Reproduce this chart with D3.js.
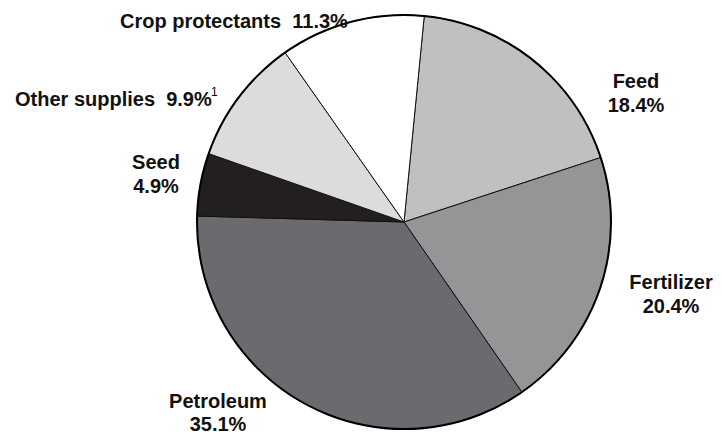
<!DOCTYPE html>
<html><head><meta charset="utf-8">
<script src="https://cdn.jsdelivr.net/npm/d3@7"></script>
<style>body{margin:0;background:#fff}svg{display:block}text{font-family:"Liberation Sans",Arial,sans-serif;font-weight:bold;fill:#111;white-space:pre}</style>
</head><body>
<script>
const categories = ["Feed","Fertilizer","Petroleum","Seed","Other supplies","Crop protectants"];
const values = [18.4, 20.4, 35.1, 4.9, 9.9, 11.3];
const colors = ["#c0c0c2","#959597","#6b6b6f","#231f20","#dcdcde","#ffffff"];
const labelText = [["Feed","18.4%"],["Fertilizer","20.4%"],["Petroleum","35.1%"],["Seed","4.9%"],["Other supplies  9.9%"],["Crop protectants  11.3%"]];

const W=722,H=434,cx=404,cy=222,R=207;
const svg=d3.select("body").append("svg").attr("width",W).attr("height",H);
const start=0.098;
const pie=d3.pie().sort(null).value(d=>d).startAngle(start).endAngle(start+2*Math.PI);
const arcs=pie(values);
const arc=d3.arc().innerRadius(0).outerRadius(R);
const g=svg.append("g").attr("transform",`translate(${cx},${cy})`);
g.selectAll("path").data(arcs).join("path").attr("d",arc)
 .attr("fill",(d,i)=>colors[i]).attr("stroke","#111").attr("stroke-width",1);
g.append("circle").attr("r",R).attr("fill","none").attr("stroke","#000").attr("stroke-width",2);

const lpos=[{x:636,y:88,a:"middle"},{x:671,y:289,a:"middle"},{x:218,y:408,a:"middle"},{x:156,y:169,a:"middle"},{x:15,y:106,a:"start"},{x:120,y:28,a:"start"}];
const lineGap=[24,24,23,24,24,24];
labelText.forEach((lines,i)=>{
  const t=svg.append("text").attr("x",lpos[i].x).attr("y",lpos[i].y).attr("text-anchor",lpos[i].a).attr("font-size",20);
  lines.forEach((s,j)=>t.append("tspan").attr("x",lpos[i].x).attr("dy",j?lineGap[i]:0).text(s));
});
svg.append("text").attr("x",211).attr("y",96).attr("font-size",12).style("font-weight","normal").style("fill","#000").text("1");
</script>
</body></html>
